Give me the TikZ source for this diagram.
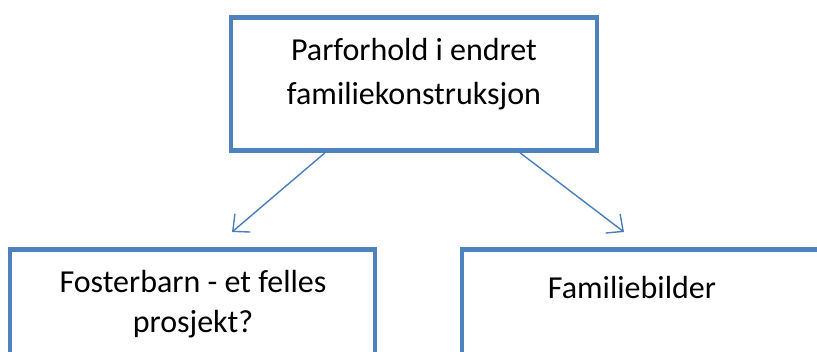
\documentclass[tikz,border=0pt]{standalone}
\usepackage{fontspec}
\setmainfont{Carlito}
\usetikzlibrary{arrows.meta}
\definecolor{boxblue}{RGB}{79,129,189}
\definecolor{arrowblue}{RGB}{74,126,187}

\begin{document}
\begin{tikzpicture}[x=1pt,y=-1pt]

		\tikzstyle{every node}=[font=\fontsize{32}{44}\selectfont]
		\tikzstyle{box}=[draw=boxblue, line width=4.5pt, rectangle, inner sep=0pt]
		\tikzstyle{boxtext}=[align=center, inner sep=0pt, anchor=base]
		\tikzstyle{link}=[-{Straight Barb[length=13pt,width=24pt]}, arrowblue, line width=1.4pt]

		\useasboundingbox (0,0) rectangle (817,351);
		\clip (0,0) rectangle (817,351);

		%\draw[style=help lines, step=50, color=gray] (0,0) grid (817,351);

		% boxes
		\node[box, minimum width=366pt, minimum height=133pt] (parforhold) at (414,84) {};
		\node[box, minimum width=365pt, minimum height=170pt] (fosterbarn) at (192.5,334.5) {};
		\node[box, minimum width=420pt, minimum height=170pt] (bilder) at (672,334.5) {};

		% texts (base = last line)
		\node[boxtext] (parforholdtekst) at (414,104) {Parforhold i endret\\familiekonstruksjon};
		\node[boxtext, font=\fontsize{32}{40}\selectfont] (fosterbarntekst) at (193,332) {Fosterbarn - et felles\\prosjekt?};
		\node[boxtext] (bildertekst) at (632,298) {Familiebilder};

		% arrows
		\coordinate (venstrespiss) at (232,232);
		\coordinate (hoyrespiss) at (624,232);
		\draw[link] ([xshift=-89pt]parforhold.south) -- (venstrespiss);
		\draw[link] ([xshift=106pt]parforhold.south) -- (hoyrespiss);

\end{tikzpicture}
\end{document}
